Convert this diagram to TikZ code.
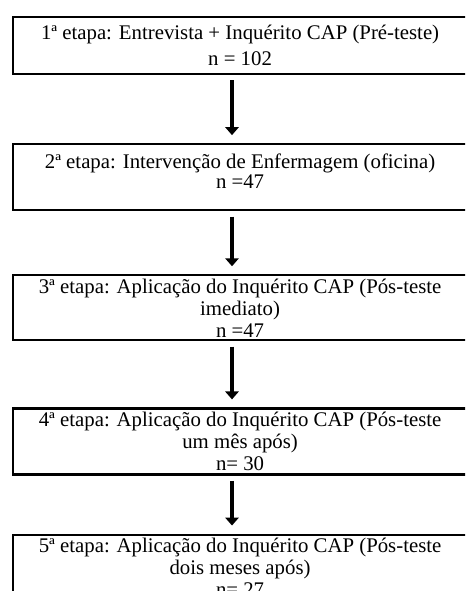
\documentclass[tikz,border=0pt]{standalone}
\usepackage{fontspec}
\setmainfont{Liberation Serif}
\usetikzlibrary{positioning,arrows.meta}
\tikzstyle{block} = [draw, rectangle, line width=1.6pt, minimum width=340.5pt, inner xsep=2pt, inner ysep=1pt, align=center, font=\fontsize{15.6}{16.5}\selectfont]
\tikzstyle{flow} = [->, line width=3.3pt, shorten <=4pt, shorten >=6pt]

\begin{document}
\begin{tikzpicture}[auto, >={Triangle[width=10pt,length=6pt]}]
	\useasboundingbox (0,0) rectangle (348.75pt,-443.25pt);
	\clip (0,0) rectangle (348.75pt,-443.25pt);
	\coordinate (axis) at (174pt,0);

	\node [block, anchor=north west, minimum height=42.75pt] (stage1) at (9pt,-12pt) {1ª etapa: Entrevista + Inquérito CAP (Pré-teste)\\[3pt] n = 102};
	\node [block, below=51pt of stage1, minimum height=49.5pt] (stage2) {2ª etapa: Intervenção de Enfermagem (oficina)\\[-1.5pt] n =47\\[-7pt] ~};
	\node [block, below=47.25pt of stage2, minimum height=48.75pt] (stage3) {3ª etapa: Aplicação do Inquérito CAP (Pós-teste\\ imediato)\\ n =47};
	\node [block, below=49.5pt of stage3, minimum height=49.5pt] (stage4) {4ª etapa: Aplicação do Inquérito CAP (Pós-teste\\ um mês após)\\ n= 30};
	\node [block, below=43.5pt of stage4, minimum height=49.5pt] (stage5) {5ª etapa: Aplicação do Inquérito CAP (Pós-teste\\ dois meses após)\\ n= 27};

	\draw [flow] (stage1.south -| axis) -- (stage2.north -| axis);
	\draw [flow] (stage2.south -| axis) -- (stage3.north -| axis);
	\draw [flow] (stage3.south -| axis) -- (stage4.north -| axis);
	\draw [flow] (stage4.south -| axis) -- (stage5.north -| axis);
\end{tikzpicture}
\end{document}
